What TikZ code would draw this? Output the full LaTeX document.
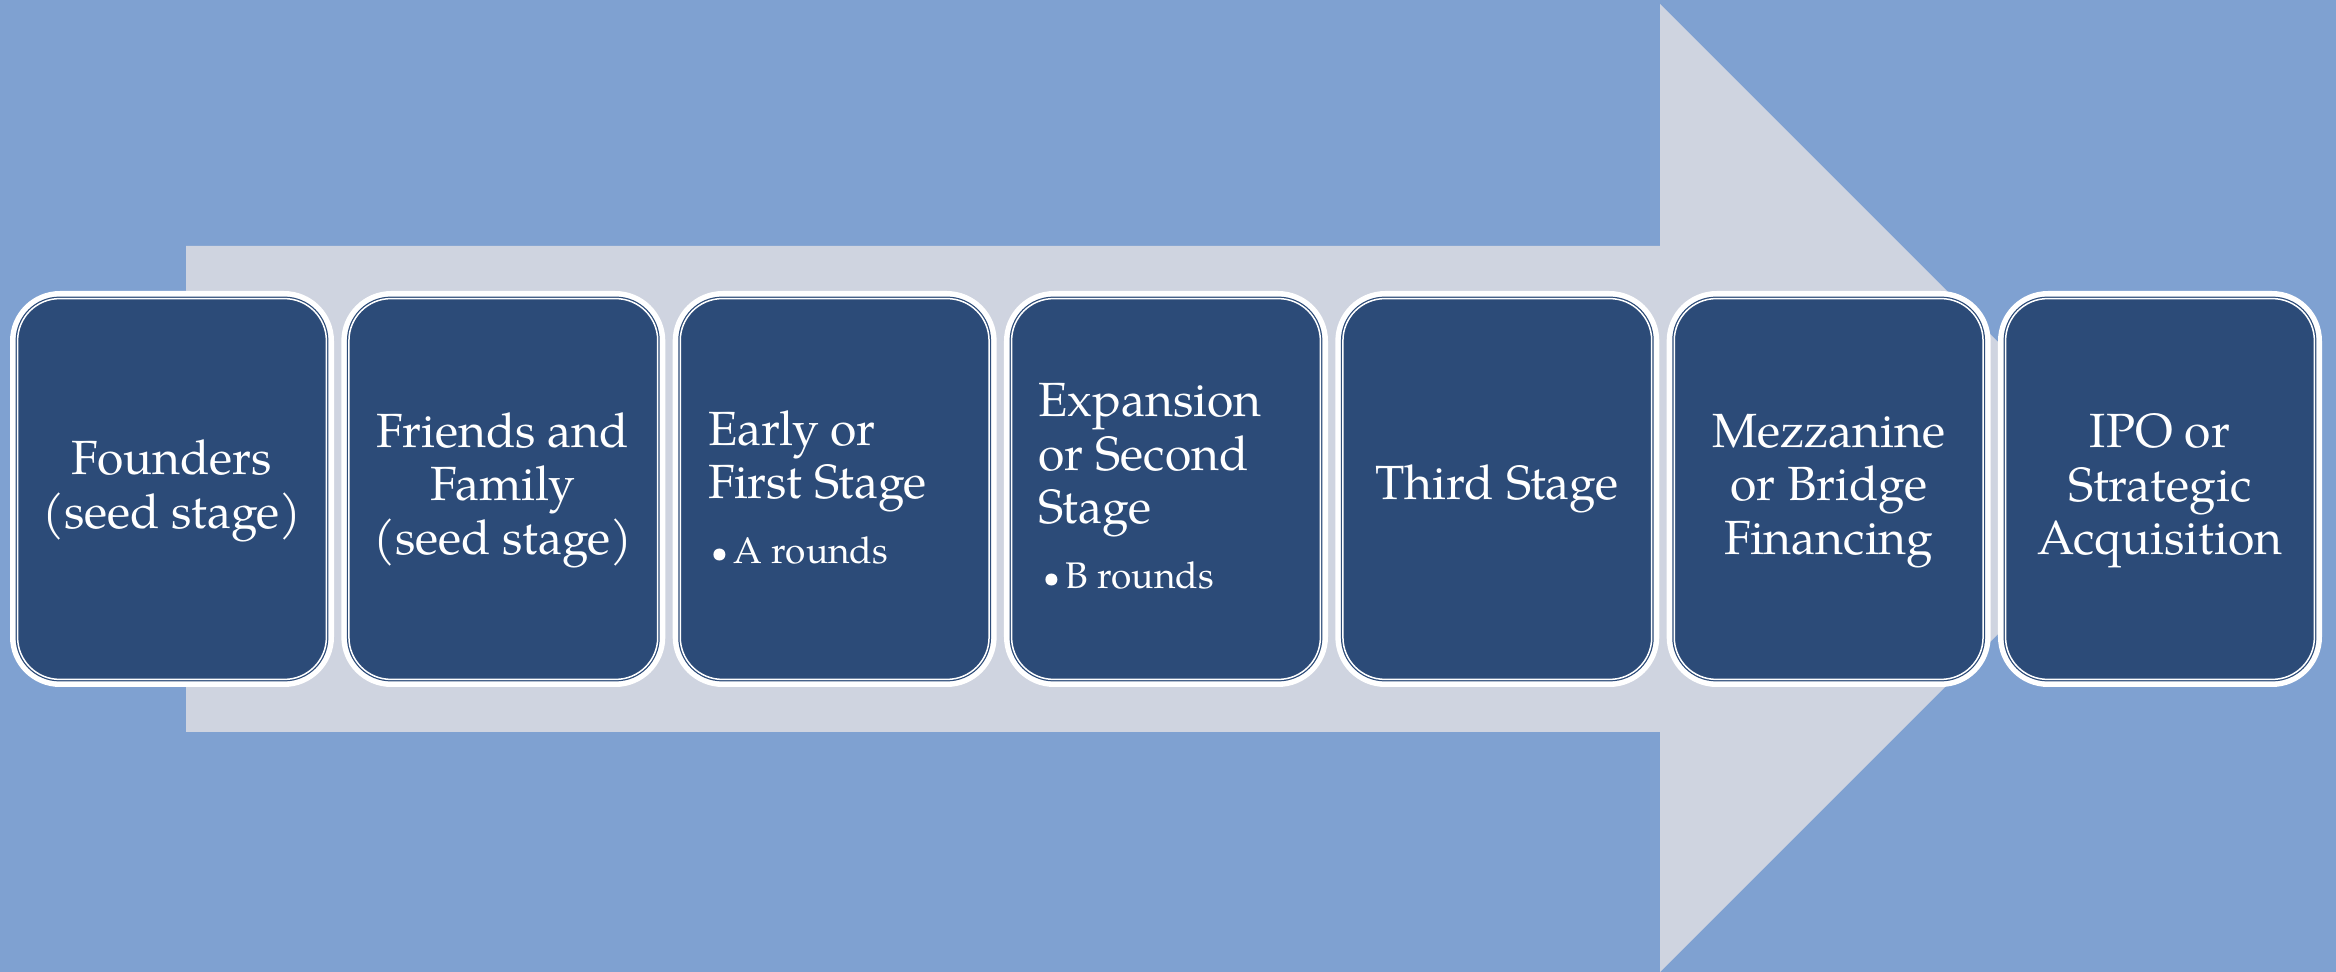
\documentclass[tikz,border=0pt]{standalone}
\usepackage{fontspec}
\setmainfont{TeX Gyre Pagella}
\definecolor{bgblue}{HTML}{7FA1D1}
\definecolor{arrowc}{HTML}{CFD4E0}
\definecolor{boxdark}{HTML}{2C4B78}
\newcommand{\stagebullet}{\raisebox{0.6pt}{\fontsize{15}{15}\selectfont\textbullet}}
\begin{document}
\begin{tikzpicture}[x=0.5pt,y=-0.5pt,
  stagebox/.style={rectangle, fill=white, rounded corners=25pt, minimum width=162pt, minimum height=198pt, inner sep=0pt},
  stagetext/.style={text=white, inner sep=0pt, font=\fontsize{24}{26.75}\selectfont},
]
\fill[bgblue] (0,0) rectangle (2336,972);
\useasboundingbox (0,0) rectangle (2336,972);
\fill[arrowc] (186,246) -- (1660,246) -- (1660,4) -- (2144,488) -- (1660,972) -- (1660,732) -- (186,732) -- cycle;
\foreach \i [count=\j] in {0,...,6}{
  \node[stagebox] (b\j) at ({172+331.33*\i},489) {};
  \fill[boxdark, rounded corners=22pt] ([shift={(6,6)}]b\j.north west) rectangle ([shift={(-6,-6)}]b\j.south east);
  \draw[white, line width=0.75pt, rounded corners=21pt] ([shift={(8,8)}]b\j.north west) rectangle ([shift={(-8,-8)}]b\j.south east);
}
\node[stagetext, align=center] (t1) at (172,491) {Founders\\(seed stage)};
\node[stagetext, align=center] (t2) at (503,490) {Friends and\\Family\\(seed stage)};
\node[stagetext, align=left, anchor=north west] (t3) at (708,410) {Early or\\First Stage\\[5.75pt]{\fontsize{18.5}{26.75}\selectfont\hspace*{1.5pt}\stagebullet\hspace{2.5pt}A rounds}};
\node[stagetext, align=left, anchor=north west] (t4) at (1038,383) {Expansion\\or Second\\Stage\\[5.75pt]{\fontsize{18.5}{26.75}\selectfont\hspace*{2.5pt}\stagebullet\hspace{2.5pt}B rounds}};
\node[stagetext, align=center] (t5) at (1497,489) {Third Stage};
\node[stagetext, align=center] (t6) at (1829,491) {Mezzanine\\or Bridge\\Financing};
\node[stagetext, align=center] (t7) at (2160,491) {IPO or\\Strategic\\Acquisition};
\end{tikzpicture}
\end{document}
